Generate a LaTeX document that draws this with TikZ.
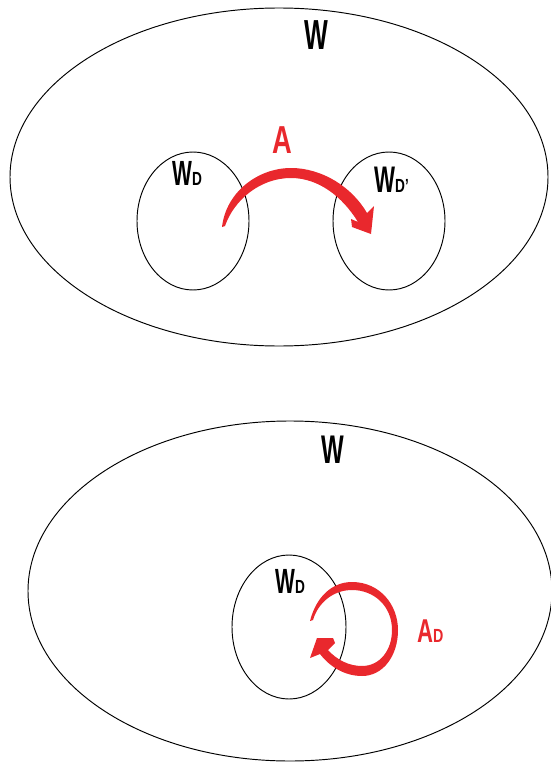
\documentclass[tikz,border=0pt]{standalone}
\usepackage{fontspec}
\setmainfont{Liberation Sans}
\definecolor{ared}{HTML}{E9282D}
\newcommand\bigW[1]{\scalebox{0.6}[1]{\fontsize{#1}{#1}\selectfont\bfseries W}}
\newcommand\subD{\scalebox{0.72}[1]{\fontsize{19}{19}\selectfont\bfseries D}}
\tikzset{
  world/.style={draw=black, line width=0.95pt},
  lbl/.style={inner sep=0pt, anchor=base west},
  ribbon/.style={fill=ared, draw=none}
}
\begin{document}
\begin{tikzpicture}[x=1pt,y=-1pt]
\useasboundingbox (0,0) rectangle (550,768);
% top diagram
\draw[world] (279,177) ellipse [x radius=269, y radius=169];
\draw[world] (193,221) ellipse [x radius=56, y radius=69];
\draw[world] (389,221) ellipse [x radius=56, y radius=69];
\node[lbl] (W1) at (304,50) {\bigW{42}};
\node[lbl] (WD1) at (172,185) {\bigW{35}\subD};
\node[lbl] (WDp) at (374,192) {\bigW{37}\subD\scalebox{0.7}[1]{\fontsize{19}{19}\selectfont\bfseries '}};
\node[lbl, text=ared] (A1) at (272,153) {\scalebox{0.7}[1]{\fontsize{39}{39}\selectfont\bfseries A}};
\fill[ribbon] (222,227) .. controls (226,192) and (258,168) .. (291,168)
  .. controls (322,168) and (352,187) .. (367,213)
  -- (374,206) -- (371,234) -- (352,227) -- (351,219) -- (358,222)
  .. controls (342,196) and (318,178) .. (291,178)
  .. controls (260,178) and (234,200) .. (225,226) -- cycle;
% bottom diagram
\draw[world] (290,591) ellipse [x radius=262, y radius=170];
\draw[world] (289,627) ellipse [x radius=57, y radius=72];
\node[lbl] (W2) at (321,463) {\bigW{40}};
\node[lbl] (WD2) at (275,593) {\bigW{35}\subD};
\node[lbl, text=ared] (AD) at (417,642) {\scalebox{0.67}[1]{\fontsize{33}{33}\selectfont\bfseries A}\scalebox{0.75}[1]{\fontsize{19}{19}\selectfont\bfseries D}};
\fill[ribbon] (310,621) .. controls (316,597) and (332,582) .. (352,582)
  .. controls (380,582) and (398,605) .. (398,630)
  .. controls (398,656) and (383,676) .. (362,676)
  .. controls (345,676) and (330,667) .. (320,654)
  -- (310,658) -- (317,638) -- (333,638) -- (335,643) -- (328,650)
  .. controls (337,660) and (349,666) .. (362,666)
  .. controls (380,666) and (392,650) .. (392,630)
  .. controls (392,606) and (374,590) .. (352,590)
  .. controls (333,590) and (318,603) .. (313,620) -- cycle;
\end{tikzpicture}
\end{document}
